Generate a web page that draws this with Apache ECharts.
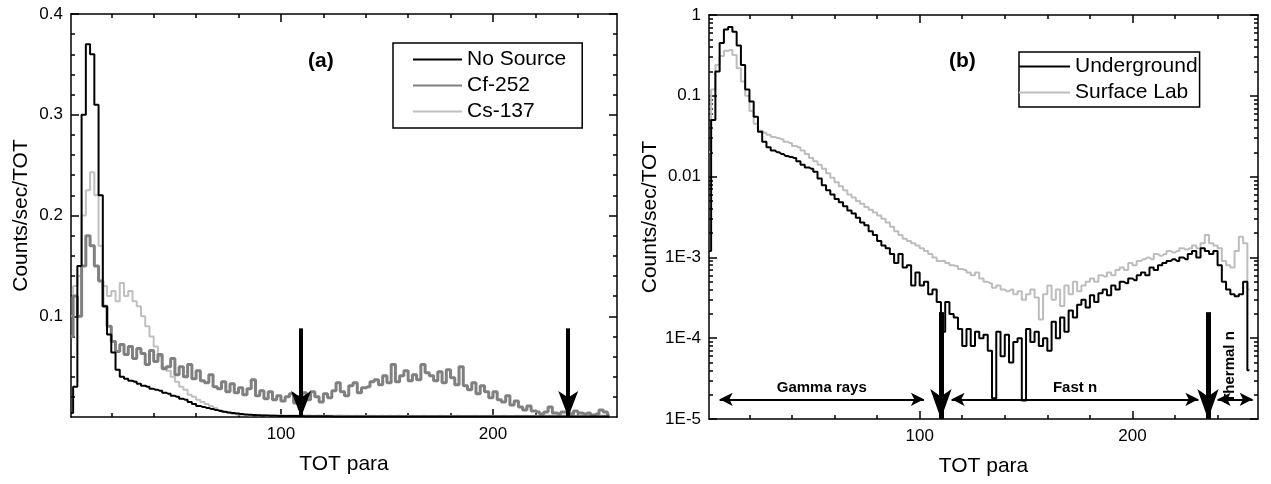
<!DOCTYPE html>
<html>
<head>
<meta charset="utf-8">
<script src="https://cdn.jsdelivr.net/npm/echarts@6/dist/echarts.min.js"></script>
<style>
html,body{margin:0;padding:0;background:#fff;}
#chart{width:1271px;height:484px;}
</style>
</head>
<body>
<div id="chart"></div>
<script>
var FONT = 'Liberation Sans, Arial, sans-serif';

// TOT histogram bins: 2 units wide, first centre at 1
var binStart = 1, binWidth = 2;

// panel (a) counts/sec/TOT, linear scale
var noSource = [
  0.004, 0.03, 0.15, 0.30, 0.37, 0.36, 0.31, 0.22, 0.11, 0.082,
  0.064, 0.047, 0.040, 0.038, 0.036, 0.035, 0.033, 0.031, 0.030, 0.028,
  0.027, 0.026, 0.024, 0.023, 0.021, 0.020, 0.018, 0.017, 0.015, 0.013,
  0.011, 0.010, 0.009, 0.008, 0.007, 0.006, 0.0052, 0.0045, 0.004, 0.0035,
  0.003, 0.0026, 0.0023, 0.002, 0.0018, 0.0016, 0.0014, 0.0013, 0.0012, 0.0011,
  0.001, 0.001, 0.0009, 0.0009, 0.0009, 0.0008, 0.0008, 0.0008, 0.0007, 0.0007,
  0.0007, 0.0007, 0.0006, 0.0006, 0.0006, 0.0006, 0.0006, 0.0005, 0.0005, 0.0005,
  0.0005, 0.0005, 0.0005, 0.0005, 0.0004, 0.0004, 0.0004, 0.0004, 0.0004, 0.0004,
  0.0004, 0.0004, 0.0004, 0.0004, 0.0004, 0.0004, 0.0004, 0.0004, 0.0004, 0.0004,
  0.0004, 0.0004, 0.0004, 0.0004, 0.0004, 0.0004, 0.0004, 0.0004, 0.0004, 0.0004,
  0.0004, 0.0004, 0.0004, 0.0004, 0.0004, 0.0004, 0.0004, 0.0004, 0.0004, 0.0004,
  0.0004, 0.0005, 0.0005, 0.0005, 0.0005, 0.0005, 0.0005, 0.0005, 0.0005, 0.0005,
  0.0005, 0.0005, 0.0005, 0.0005, 0.0004, 0.0004, 0.0004, 0.0003
];
var cf252 = [
  0.08, 0.12, 0.10, 0.15, 0.18, 0.17, 0.15, 0.135, 0.11, 0.09,
  0.075, 0.065, 0.072, 0.062, 0.07, 0.058, 0.068, 0.063, 0.052, 0.066,
  0.055, 0.062, 0.048, 0.05, 0.058, 0.042, 0.05, 0.04, 0.052, 0.038,
  0.046, 0.036, 0.034, 0.042, 0.03, 0.028, 0.035, 0.025, 0.033, 0.024,
  0.029, 0.022, 0.028,
  0.037, 0.021, 0.026, 0.018, 0.025, 0.017, 0.021, 0.016, 0.02, 0.023,
  0.014, 0.02, 0.024, 0.017, 0.025, 0.02, 0.015, 0.023, 0.019, 0.026,
  0.034, 0.025, 0.021, 0.031, 0.034, 0.024, 0.029, 0.03, 0.035, 0.037,
  0.032, 0.041, 0.034, 0.052, 0.035, 0.041, 0.046, 0.036, 0.042, 0.037,
  0.052, 0.044, 0.041, 0.036, 0.045, 0.034, 0.047, 0.039, 0.032, 0.05,
  0.031, 0.027, 0.034, 0.023, 0.031, 0.025, 0.019, 0.025, 0.017, 0.015,
  0.021, 0.012, 0.016, 0.01, 0.007, 0.011, 0.006, 0.005, 0.003, 0.005,
  0.01, 0.004, 0.003, 0.005, 0.004, 0.003, 0.006, 0.004, 0.003, 0.004,
  0.002, 0.003, 0.007, 0.005, 0.002
];
var cs137 = [
  0.10, 0.13, 0.14, 0.20, 0.225, 0.243, 0.22, 0.17, 0.13, 0.12,
  0.125, 0.115, 0.133, 0.12, 0.125, 0.115, 0.11, 0.10, 0.09, 0.08,
  0.07, 0.06, 0.05, 0.046, 0.04, 0.035, 0.03, 0.027, 0.022, 0.02,
  0.017, 0.015, 0.013, 0.011, 0.009, 0.007, 0.005, 0.004, 0.003, 0.0025,
  0.0022, 0.002, 0.0018, 0.002, 0.0017, 0.0019, 0.0016, 0.0018, 0.0015, 0.0017,
  0.0015, 0.0016, 0.0014, 0.0016, 0.0013, 0.0015, 0.0014, 0.0013, 0.0015, 0.0012,
  0.0014, 0.0013, 0.0012, 0.0014, 0.0012, 0.0013, 0.0011, 0.0013, 0.0012, 0.0011,
  0.0013, 0.0012, 0.001, 0.0012, 0.0011, 0.0012, 0.001, 0.0012, 0.0011, 0.001,
  0.0012, 0.0011, 0.001, 0.0012, 0.001, 0.0011, 0.001, 0.0012, 0.001, 0.0011,
  0.001, 0.0012, 0.001, 0.0011, 0.001, 0.0012, 0.001, 0.0011, 0.001, 0.0012,
  0.0011, 0.001, 0.0012, 0.001, 0.0011, 0.0013, 0.001, 0.0012, 0.0011, 0.0013,
  0.0012, 0.0014, 0.0012, 0.0015, 0.0013, 0.0012, 0.0014, 0.0013, 0.0016, 0.0013,
  0.0015, 0.0014, 0.0016, 0.0015, 0.0017, 0.0015, 0.0016, 0.0012
];

// panel (b) counts/sec/TOT, log scale
var underground = [
  0.0012, 0.05, 0.2, 0.45, 0.66, 0.71, 0.62, 0.42, 0.24, 0.12,
  0.085, 0.055, 0.036, 0.027, 0.023, 0.021, 0.020, 0.019, 0.018, 0.0175,
  0.017, 0.0155, 0.014, 0.013, 0.0125, 0.0115, 0.0095, 0.0078, 0.0068, 0.006,
  0.0053, 0.0048, 0.0043, 0.0038, 0.0035, 0.0031, 0.0027, 0.0025, 0.0021, 0.0019,
  0.0016, 0.0014, 0.0013, 0.0011, 0.00085, 0.0011, 0.00075, 0.0008, 0.00045, 0.00065,
  0.00045, 0.0005, 0.00035, 0.0004, 0.00028, 0.00012, 0.00028, 0.0002, 0.00018, 0.00013,
  0.00008, 0.00013, 0.00008, 0.00012, 0.0001, 0.00011, 0.00007, 0.000018, 0.00012, 0.00006,
  0.00011, 0.00005, 0.00009, 0.0001, 0.000017, 0.00013, 0.00009, 0.00012, 0.00008, 0.0001,
  0.00007, 0.00016, 0.0001, 0.00018, 0.00012, 0.00022, 0.00018, 0.00026, 0.0003, 0.00024,
  0.00034, 0.00028, 0.00036, 0.0004, 0.00034, 0.00045, 0.0004, 0.0005, 0.00048, 0.00055,
  0.00052, 0.0006, 0.00065, 0.0006, 0.00075, 0.0007, 0.0008, 0.00085, 0.0009, 0.00095,
  0.0009, 0.001, 0.00095, 0.0011, 0.0012, 0.001, 0.0013, 0.0012, 0.0011, 0.0012,
  0.0008, 0.0005, 0.0004, 0.00035, 0.00033, 0.00035, 0.0005, 0.00004
];
var surfaceLab = [
  0.02, 0.12, 0.24, 0.31, 0.36, 0.37, 0.32, 0.22, 0.15, 0.1,
  0.065, 0.045, 0.037, 0.035, 0.033, 0.031, 0.03, 0.029, 0.027, 0.026,
  0.024, 0.023, 0.021, 0.019, 0.017, 0.0155, 0.014, 0.0125, 0.011, 0.0097,
  0.0085, 0.0076, 0.0068, 0.006, 0.0055, 0.005, 0.0046, 0.0042, 0.0039, 0.0036,
  0.0033, 0.003, 0.0027, 0.0024, 0.0021, 0.0019, 0.0017, 0.0016, 0.0015, 0.0014,
  0.0013, 0.0012, 0.0011, 0.001, 0.0009, 0.0009, 0.00085, 0.0008, 0.00078, 0.00072,
  0.0007, 0.00065, 0.0006, 0.00065, 0.00055, 0.0005, 0.00048, 0.00042, 0.00045, 0.0004,
  0.00038, 0.0004, 0.00035, 0.00038, 0.0003, 0.00035, 0.0004, 0.00032, 0.00017, 0.00035,
  0.00045, 0.0003, 0.0004, 0.00025, 0.00045, 0.00035, 0.0005, 0.00038, 0.00045, 0.0005,
  0.00055, 0.0005, 0.0006, 0.00058, 0.00065, 0.0006, 0.0007, 0.00075, 0.0007, 0.00085,
  0.0008, 0.0009, 0.00095, 0.001, 0.00095, 0.0011, 0.00105, 0.0011, 0.0012, 0.00115,
  0.0012, 0.0013, 0.00125, 0.0013, 0.0014, 0.0013, 0.0015, 0.0019, 0.0015, 0.0014,
  0.0013, 0.0009, 0.0008, 0.00075, 0.0012, 0.0018, 0.0015, 0.0004
];

// ticks
var xMajorTicks = [100, 200];
var xMinorTicks = [20, 40, 60, 80, 120, 140, 160, 180, 220, 240];
var yMajorA = [0.1, 0.2, 0.3, 0.4];
var yMinorA = [0.02, 0.04, 0.06, 0.08, 0.12, 0.14, 0.16, 0.18, 0.22, 0.24, 0.26, 0.28, 0.32, 0.34, 0.36, 0.38];
var yMajorB = [1e-5, 1e-4, 1e-3, 0.01, 0.1, 1];
var yLabelsB = ['1E-5', '1E-4', '1E-3', '0.01', '0.1', '1'];
var yMinorB = [
  2e-5, 3e-5, 4e-5, 5e-5, 6e-5, 7e-5, 8e-5, 9e-5,
  2e-4, 3e-4, 4e-4, 5e-4, 6e-4, 7e-4, 8e-4, 9e-4,
  2e-3, 3e-3, 4e-3, 5e-3, 6e-3, 7e-3, 8e-3, 9e-3,
  0.02, 0.03, 0.04, 0.05, 0.06, 0.07, 0.08, 0.09,
  0.2, 0.3, 0.4, 0.5, 0.6, 0.7, 0.8, 0.9
];

// annotations: [x, from y, to y]
var arrowsA = [[109.5, 0.088, 0], [235.5, 0.088, 0]];
var arrowsB = [[110, 2.1e-4, 1e-5], [235.5, 2.1e-4, 1e-5]];
// [label, from x, to x] at height rangeY
var rangesB = [['Gamma rays', 6, 102], ['Fast n', 115, 231], ['', 240, 256.5]];
var rangeY = 1.75e-5;
var thermalLabel = ['Thermal n', 245.8, 4.4e-5];

function toPairs(vals) {
  return vals.map(function (v, i) { return [binStart + i * binWidth, v]; });
}

function tickStyle() { return {color: '#000', width: 1.5}; }

function xAxesFor(grid, min, max) {
  var base = {gridIndex: grid, type: 'value', min: min, max: max, splitLine: {show: false}};
  return [
    Object.assign({}, base, {
      position: 'bottom', name: 'TOT para', nameLocation: 'middle', nameGap: 37,
      nameTextStyle: {fontSize: 21, color: '#000', fontFamily: FONT},
      axisLine: {show: true, onZero: false, lineStyle: tickStyle()},
      axisTick: {show: true, inside: true, length: 8, customValues: xMajorTicks, lineStyle: tickStyle()},
      axisLabel: {show: true, customValues: xMajorTicks, fontSize: 17, color: '#000', margin: 9, fontFamily: FONT}
    }),
    Object.assign({}, base, {
      position: 'bottom', axisLine: {show: false, onZero: false},
      axisTick: {show: true, inside: true, length: 4, customValues: xMinorTicks, lineStyle: tickStyle()},
      axisLabel: {show: false}
    }),
    Object.assign({}, base, {
      position: 'top',
      axisLine: {show: true, onZero: false, lineStyle: tickStyle()},
      axisTick: {show: true, inside: true, length: 8, customValues: xMajorTicks, lineStyle: tickStyle()},
      axisLabel: {show: false}
    }),
    Object.assign({}, base, {
      position: 'top', axisLine: {show: false, onZero: false},
      axisTick: {show: true, inside: true, length: 4, customValues: xMinorTicks, lineStyle: tickStyle()},
      axisLabel: {show: false}
    })
  ];
}

function yAxesFor(grid, type, min, max, major, minor, fmt) {
  var base = {gridIndex: grid, type: type, min: min, max: max, splitLine: {show: false}};
  var label = {show: true, customValues: major, fontSize: 17, color: '#000', margin: 8, fontFamily: FONT};
  if (fmt) label.formatter = fmt;
  return [
    Object.assign({}, base, {
      position: 'left', name: 'Counts/sec/TOT', nameLocation: 'middle', nameGap: 39,
      nameTextStyle: {fontSize: 21, color: '#000', fontFamily: FONT},
      axisLine: {show: true, onZero: false, lineStyle: tickStyle()},
      axisTick: {show: true, inside: true, length: 8, customValues: major, lineStyle: tickStyle()},
      axisLabel: label
    }),
    Object.assign({}, base, {
      position: 'left', axisLine: {show: false, onZero: false},
      axisTick: {show: true, inside: true, length: 4, customValues: minor, lineStyle: tickStyle()},
      axisLabel: {show: false}
    }),
    Object.assign({}, base, {
      position: 'right',
      axisLine: {show: true, onZero: false, lineStyle: tickStyle()},
      axisTick: {show: true, inside: true, length: 8, customValues: major, lineStyle: tickStyle()},
      axisLabel: {show: false}
    }),
    Object.assign({}, base, {
      position: 'right', axisLine: {show: false, onZero: false},
      axisTick: {show: true, inside: true, length: 4, customValues: minor, lineStyle: tickStyle()},
      axisLabel: {show: false}
    })
  ];
}

function logLabel(v) {
  var best = 0, d = Infinity;
  for (var i = 0; i < yMajorB.length; i++) {
    var dd = Math.abs(Math.log(v) - Math.log(yMajorB[i]));
    if (dd < d) { d = dd; best = i; }
  }
  return yLabelsB[best];
}

function histSeries(name, vals, axis, color, width, z) {
  return {
    name: name, type: 'line', step: 'middle', xAxisIndex: axis, yAxisIndex: axis,
    data: toPairs(vals), symbol: 'none', showSymbol: false, z: z,
    lineStyle: {color: color, width: width}, itemStyle: {color: color}
  };
}

// vertical arrows, head only at the lower end
function downArrows(list, width, head) {
  return {
    silent: true, symbol: ['none', 'arrow'], symbolSize: 20,
    lineStyle: {color: '#000', width: width, type: 'solid'}, label: {show: false},
    data: list.map(function (a) {
      return [{coord: [a[0], a[1]], symbol: 'none'},
              {coord: [a[0], a[2]], symbol: 'arrow', symbolSize: head}];
    })
  };
}

var rangeArrowsB = {
  silent: true, symbol: ['arrow', 'arrow'], symbolSize: 12,
  lineStyle: {color: '#000', width: 2, type: 'solid'},
  label: {show: true, position: 'insideMiddleTop', formatter: '{b}', color: '#000',
    fontSize: 15, fontWeight: 'bold', fontFamily: FONT, distance: 4},
  data: rangesB.map(function (r) {
    return [{name: r[0], coord: [r[1], rangeY], symbol: 'arrow', symbolSize: [10, 13]},
            {coord: [r[2], rangeY], symbol: 'arrow', symbolSize: [10, 13]}];
  })
};

var sUnder = histSeries('Underground', underground, 4, '#000', 2, 4);
sUnder.markLine = downArrows(arrowsB, 5, [16, 30]);
var sSurf = histSeries('Surface Lab', surfaceLab, 4, '#bdbdbd', 2, 3);
sSurf.markLine = rangeArrowsB;
sSurf.markPoint = {
  silent: true, symbol: 'rect', symbolSize: 0,
  label: {show: true, position: 'inside', rotate: 90, formatter: '{b}', color: '#000',
    fontSize: 15, fontWeight: 'bold', fontFamily: FONT},
  data: [{name: thermalLabel[0], coord: [thermalLabel[1], thermalLabel[2]]}]
};
var sNo = histSeries('No Source', noSource, 0, '#000', 2, 5);
sNo.markLine = downArrows(arrowsA, 4, [15, 26]);

function legendFor(names, left, top, itemWidth, padding) {
  return {
    data: names.map(function (n) { return {name: n, icon: 'rect'}; }),
    orient: 'vertical', left: left, top: top,
    itemWidth: itemWidth, itemHeight: 2, itemGap: 5, padding: padding,
    borderColor: '#000', borderWidth: 1.5, selectedMode: false,
    textStyle: {fontSize: 21, color: '#000', fontFamily: FONT}
  };
}

var option = {
  animation: false,
  backgroundColor: '#fff',
  textStyle: {fontFamily: FONT},
  grid: [
    {left: 71, top: 14, width: 546, height: 403},
    {left: 709, top: 15, width: 549, height: 404}
  ],
  xAxis: xAxesFor(0, 1, 258.5).concat(xAxesFor(1, 1, 259)),
  yAxis: yAxesFor(0, 'value', 0, 0.4, yMajorA, yMinorA)
    .concat(yAxesFor(1, 'log', 1e-5, 1, yMajorB, yMinorB, logLabel)),
  legend: [
    legendFor(['No Source', 'Cf-252', 'Cs-137'], 393, 43, 49, [6, 16, 6, 20]),
    legendFor(['Underground', 'Surface Lab'], 1019, 52, 51, [4, 2, 4, 0])
  ],
  graphic: [
    {type: 'text', left: 308, top: 51, style: {text: '(a)', font: 'bold 21px ' + FONT, fill: '#000'}},
    {type: 'text', left: 949, top: 51, style: {text: '(b)', font: 'bold 21px ' + FONT, fill: '#000'}}
  ],
  series: [
    sNo,
    histSeries('Cf-252', cf252, 0, '#808080', 3, 4),
    histSeries('Cs-137', cs137, 0, '#c0c0c0', 2, 3),
    sUnder,
    sSurf
  ]
};

var chart = echarts.init(document.getElementById('chart'));
chart.setOption(option);
</script>
</body>
</html>
